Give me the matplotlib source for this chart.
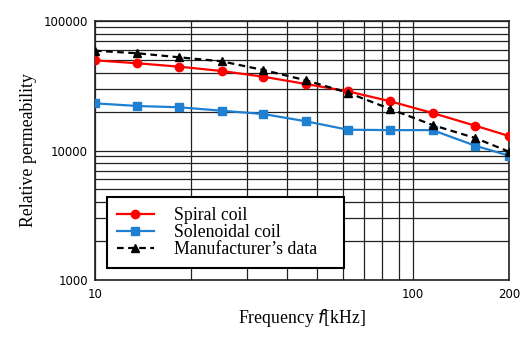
import matplotlib
matplotlib.use("Agg")
import matplotlib.pyplot as plt
from matplotlib.ticker import FixedLocator, NullFormatter, FixedFormatter

freq = [10, 13.6, 18.4, 25.0, 33.8, 46.0, 62.3, 84.7, 115, 156.6, 200]
spiral = [49700, 47150, 44380, 41100, 37140, 32620, 28650, 23980, 19480, 15540, 12940]
solenoidal = [23140, 22060, 21560, 20290, 19130, 16810, 14470, 14370, 14370, 10890, 9120]
manufacturer = [58970, 56320, 52440, 48840, 41840, 34840, 27950, 20920, 15730, 12490, 9790]

x_ticks = [10, 100, 200]
x_minor = [20, 30, 40, 50, 60, 70, 80, 90]
y_ticks = [1000, 10000, 100000]

fig = plt.figure(figsize=(5.23, 3.38), dpi=100)
ax = fig.add_axes([95/523, 1-280/338, (509-95)/523, (280-21)/338])
ax.set_xscale("log")
ax.set_yscale("log")
ax.set_xlim(10, 200)
ax.set_ylim(1000, 100000)

ax.plot(freq, spiral, color="#ff0000", lw=1.6, marker="o", ms=6, label="Spiral coil", zorder=4)
ax.plot(freq, solenoidal, color="#1f7fd0", lw=1.6, marker="s", ms=5.5, label="Solenoidal coil", zorder=4)
ax.plot(freq, manufacturer, color="black", lw=1.6, ls=(0, (3, 2)), marker="^", ms=6, label="Manufacturer\u2019s data", zorder=5)

ax.xaxis.set_major_locator(FixedLocator(x_ticks))
ax.xaxis.set_major_formatter(FixedFormatter([str(t) for t in x_ticks]))
ax.xaxis.set_minor_locator(FixedLocator(x_minor))
ax.xaxis.set_minor_formatter(NullFormatter())
ax.yaxis.set_major_locator(FixedLocator(y_ticks))
ax.yaxis.set_major_formatter(FixedFormatter([str(t) for t in y_ticks]))
ax.grid(True, which="both", color="#222222", lw=0.9)
ax.tick_params(which="both", length=0, labelsize=8.5, pad=6)
ax.tick_params(axis="y", pad=5)
for s in ax.spines.values():
    s.set_color("#222222")
    s.set_linewidth(1.2)

serif = "Liberation Serif"
ax.set_ylabel("Relative permeability", fontfamily=serif, fontsize=12.8, labelpad=5)
ax.set_xlabel("Frequency $\\it{f}$[kHz]", fontfamily=serif, fontsize=12.8, labelpad=4)

x0 = (107-95)/414
y0 = (280-268)/259
w = (344-107)/414
h = (268-198)/259
leg = ax.legend(loc="lower left", bbox_to_anchor=(x0, y0, w, h), mode="expand",
                prop={"family": serif, "size": 12.8}, frameon=True, fancybox=False,
                framealpha=1, edgecolor="black", handlelength=2.1, borderpad=0.55,
                labelspacing=0.0, handletextpad=1.1, borderaxespad=0)
leg.get_frame().set_linewidth(1.5)

fig.savefig("out.png", dpi=100)
